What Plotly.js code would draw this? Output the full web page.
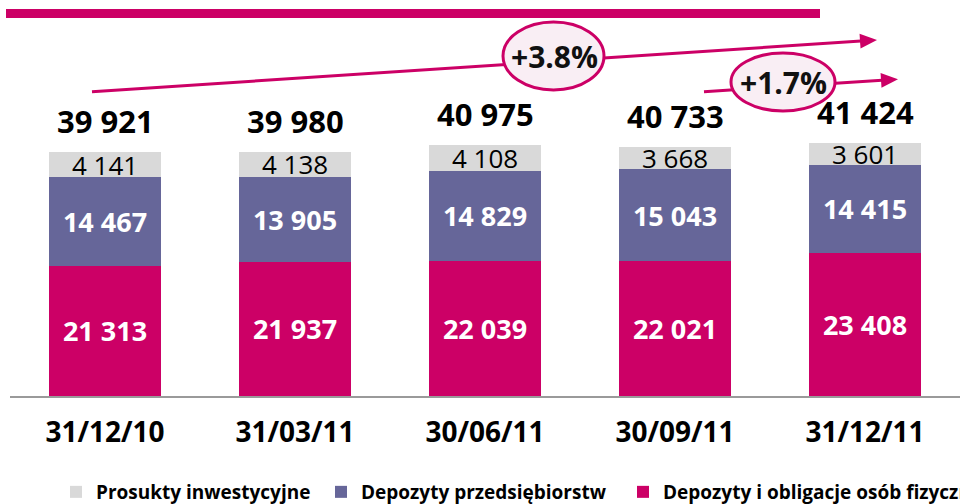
<!DOCTYPE html>
<html><head><meta charset="utf-8">
<script src="https://cdn.plot.ly/plotly-3.0.1.min.js"></script>
<style>html,body{margin:0;padding:0;background:#fff}#chart{width:960px;height:504px}</style>
</head><body><div id="chart"></div>
<script>
// ---- data ----
const categories = ['31/12/10', '31/03/11', '30/06/11', '30/09/11', '31/12/11'];
const individualDeposits = [21313, 21937, 22039, 22021, 23408];
const corporateDeposits = [14467, 13905, 14829, 15043, 14415];
const investmentProducts = [4141, 4138, 4108, 3668, 3601];
const totals = [39921, 39980, 40975, 40733, 41424];
const seriesNames = ['Depozyty i obligacje osób fizycznych', 'Depozyty przedsiębiorstw', 'Prosukty inwestycyjne'];
const growthLabels = ['+3.8%', '+1.7%'];

// ---- helpers ----
const FONT = 'Open Sans, Liberation Sans, sans-serif';
const MAGENTA = '#cc0066', PURPLE = '#666699', GREY = '#d9d9d9';
const W = 960, H = 504, L = 10, R = 0, T = 0, B = 108;
const plotW = W - L - R, plotH = H - T - B;
const PX_PER_UNIT = 0.006115;
const px = x => (x - L) / plotW;
const py = y => (T + plotH - y) / plotH;
const fmt = v => String(v).replace(/\B(?=(\d{3})+(?!\d))/g, ' ');

function barTrace(vals, name, color, txtColor, bold, legendId) {
  return {
    type: 'bar', x: categories, y: vals, name: name,
    marker: {color: color, line: {width: 0}},
    text: vals.map(fmt), textposition: 'inside', insidetextanchor: 'middle',
    constraintext: 'none',
    insidetextfont: {family: FONT, size: bold ? 27 : 26, color: txtColor, weight: bold ? 700 : 400},
    hoverinfo: 'none', legend: legendId
  };
}

const traces = [
  barTrace(individualDeposits, seriesNames[0], MAGENTA, '#ffffff', true, 'legend3'),
  barTrace(corporateDeposits, seriesNames[1], PURPLE, '#ffffff', true, 'legend2'),
  barTrace(investmentProducts, seriesNames[2], GREY, '#000000', false, 'legend')
];

// arrows (pixel geometry of decorations)
function arrowShapes(x0, y0, x1, y1) {
  const dx = x1 - x0, dy = y1 - y0, len = Math.hypot(dx, dy);
  const ux = dx / len, uy = dy / len, hl = 17, hw = 7.3;
  const bx = x1 - hl * ux, by = y1 - hl * uy;
  const nx = -uy, ny = ux;
  const line = {type: 'line', xref: 'paper', yref: 'paper', x0: px(x0), y0: py(y0), x1: px(bx + ux), y1: py(by + uy),
    line: {color: MAGENTA, width: 3}, layer: 'above'};
  const head = {type: 'path', xref: 'paper', yref: 'paper', layer: 'above',
    path: `M${px(x1)},${py(y1)} L${px(bx + hw * nx)},${py(by + hw * ny)} L${px(bx - hw * nx)},${py(by - hw * ny)} Z`,
    fillcolor: MAGENTA, line: {width: 0}};
  return [line, head];
}
function ellipse(x0, y0, x1, y1) {
  return {type: 'circle', xref: 'paper', yref: 'paper', layer: 'above',
    x0: px(x0), x1: px(x1), y0: py(y1), y1: py(y0),
    fillcolor: '#f9eef4', line: {color: MAGENTA, width: 3}};
}

const shapes = [
  {type: 'rect', xref: 'paper', yref: 'paper', x0: px(6), x1: px(820), y0: py(18), y1: py(9),
    fillcolor: MAGENTA, line: {width: 0}, layer: 'above'},
  ...arrowShapes(92, 91.7, 877, 40),
  ...arrowShapes(704, 91.7, 898, 79.3),
  ellipse(503, 22, 604, 90),
  ellipse(731, 53, 835, 111)
];

const annotations = totals.map((t, i) => ({
  x: categories[i], y: t, xref: 'x', yref: 'y', text: fmt(t), showarrow: false,
  yanchor: 'middle', yshift: 31,
  font: {family: FONT, size: 31, color: '#000', weight: 700}
}));
annotations.push(
  {x: px(554), y: py(57), xref: 'paper', yref: 'paper', text: growthLabels[0], showarrow: false,
    xanchor: 'center', yanchor: 'middle', font: {family: FONT, size: 30, color: '#111', weight: 700}},
  {x: px(783), y: py(82), xref: 'paper', yref: 'paper', text: growthLabels[1], showarrow: false,
    xanchor: 'center', yanchor: 'middle', font: {family: FONT, size: 30, color: '#111', weight: 700}}
);

const legendBase = {orientation: 'h', xref: 'container', yref: 'container', yanchor: 'middle', xanchor: 'left',
  y: 1 - 492 / H, bgcolor: 'rgba(0,0,0,0)', borderwidth: 0,
  font: {family: FONT, size: 19, color: '#000', weight: 700}};

const layout = {
  width: W, height: H,
  margin: {l: L, r: R, t: T, b: B, pad: 0},
  paper_bgcolor: '#fff', plot_bgcolor: '#fff',
  barmode: 'stack', bargap: 0.41,
  xaxis: {type: 'category', showline: true, linecolor: '#9a9a9a', linewidth: 2, showgrid: false, zeroline: false,
    ticks: '', ticklabelstandoff: 10, tickfont: {family: FONT, size: 28, color: '#000', weight: 700}, fixedrange: true},
  yaxis: {visible: false, range: [0, plotH / PX_PER_UNIT], fixedrange: true},
  showlegend: true,
  legend: Object.assign({}, legendBase, {x: 56 / W}),
  legend2: Object.assign({}, legendBase, {x: 321 / W}),
  legend3: Object.assign({}, legendBase, {x: 623 / W}),
  shapes: shapes, annotations: annotations
};

Plotly.newPlot('chart', traces, layout, {displayModeBar: false, staticPlot: true});
</script>
</body></html>
